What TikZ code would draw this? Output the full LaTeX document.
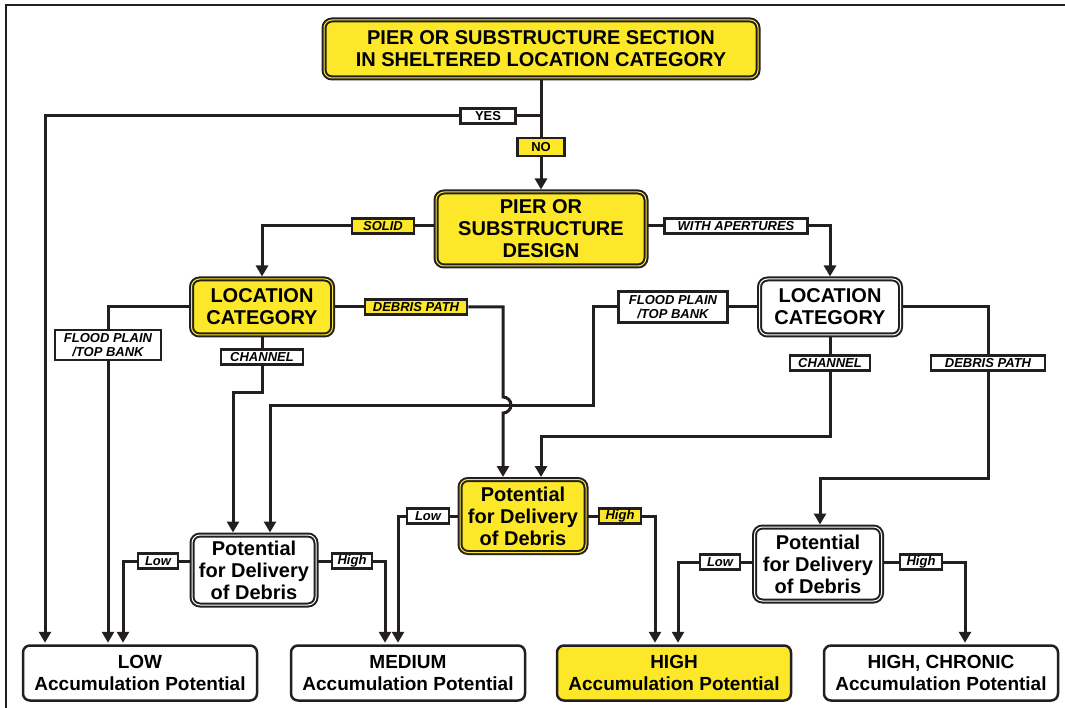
\documentclass[tikz,border=0pt]{standalone}
\usepackage{fontspec}
\setmainfont{Liberation Sans}
\usetikzlibrary{arrows.meta}
\definecolor{ink}{HTML}{231F20}
\definecolor{hilite}{RGB}{252,232,40}

\begin{document}
\begin{tikzpicture}[x=1pt, y=-1pt,
    box/.style={rectangle, rounded corners=8pt, draw=ink, line width=2pt, double distance=1pt, align=center, inner sep=0pt, font=\bfseries\fontsize{20}{22}\selectfont},
    ybox/.style={box, fill=hilite, double=hilite},
    wbox/.style={box, fill=white, double=white},
    result/.style={rectangle, rounded corners=7pt, draw=ink, line width=2.5pt, fill=white, align=center, minimum width=234pt, minimum height=55pt, inner sep=0pt, font=\bfseries\fontsize{19}{22}\selectfont},
    tag/.style={rectangle, draw=ink, line width=2.5pt, fill=white, align=center, inner sep=0pt, minimum height=15pt, font=\bfseries\itshape\fontsize{13}{14}\selectfont},
    ytag/.style={tag, fill=hilite},
    plain/.style={font=\bfseries\fontsize{13}{14}\selectfont},
    link/.style={draw=ink, line width=3pt},
    arr/.style={link, shorten >=1.5pt, -{Triangle[length=11pt, width=12pt]}}]
    \useasboundingbox (0,0) rectangle (1065,708);
    \draw[ink, line width=2.5pt] (1065,5) -- (6,5) -- (6,708);

    % decision boxes
    \node (top) [ybox, minimum width=434pt, minimum height=58pt] at (541,49) {PIER OR SUBSTRUCTURE SECTION\\IN SHELTERED LOCATION CATEGORY};
    \node (design) [ybox, minimum width=210pt, minimum height=74pt] at (541,229) {PIER OR\\SUBSTRUCTURE\\DESIGN};
    \node (loc1) [ybox, minimum width=141pt, minimum height=56pt] at (262,307) {LOCATION\\CATEGORY};
    \node (loc2) [wbox, minimum width=141pt, minimum height=56pt] at (830,307) {LOCATION\\CATEGORY};
    \node (pd1) [wbox, minimum width=124pt, minimum height=70pt] at (254,570) {Potential\\for Delivery\\of Debris};
    \node (pd2) [ybox, minimum width=126pt, minimum height=73pt] at (523,516) {Potential\\for Delivery\\of Debris};
    \node (pd3) [wbox, minimum width=127pt, minimum height=74pt] at (818,564) {Potential\\for Delivery\\of Debris};

    % outcomes
    \node (low) [result] at (140,673) {LOW\\Accumulation Potential};
    \node (medium) [result] at (408,673) {MEDIUM\\Accumulation Potential};
    \node (high) [result, fill=hilite] at (674,673) {HIGH\\Accumulation Potential};
    \node (chronic) [result] at (941,673) {HIGH, CHRONIC\\Accumulation Potential};

    % branch tags
    \node (yes) [tag, plain, minimum width=55pt] at (488,116) {YES};
    \node (no) [ytag, plain, minimum width=47pt, minimum height=18pt] at (541,147) {NO};
    \node (solid) [ytag, minimum width=62pt] at (383,226) {SOLID};
    \node (aper) [tag, minimum width=143pt] at (736,226) {WITH APERTURES};
    \node (fp1) [tag, minimum width=106pt, minimum height=30pt] at (108,345) {FLOOD PLAIN\\/TOP BANK};
    \node (ch1) [tag, minimum width=82pt] at (262,357) {CHANNEL};
    \node (dp1) [ytag, minimum width=102pt] at (416,307) {DEBRIS PATH};
    \node (fp2) [tag, minimum width=109pt, minimum height=31pt] at (673,307) {FLOOD PLAIN\\/TOP BANK};
    \node (ch2) [tag, minimum width=80pt] at (830,363) {CHANNEL};
    \node (dp2) [tag, minimum width=114pt] at (988,363) {DEBRIS PATH};
    \node (low1) [tag, minimum width=40pt] at (158,561) {Low};
    \node (high1) [tag, minimum width=40pt] at (352,561) {High};
    \node (low2) [tag, minimum width=42pt] at (428,516) {Low};
    \node (high2) [ytag, minimum width=42pt] at (620,516) {High};
    \node (low3) [tag, minimum width=40pt] at (720,562) {Low};
    \node (high3) [tag, minimum width=42pt] at (921,562) {High};

    % bends and drops
    \coordinate (yesbend) at (45,116);
    \coordinate (chbend1) at (233,392);
    \coordinate (hop) at (503,405);
    \coordinate (fpbend) at (593,405);
    \coordinate (fpdrop) at (270,405);
    \coordinate (chbend2) at (541,436);
    \coordinate (dpbend) at (820,478);
    \coordinate (lowdrop1) at (123,561);
    \coordinate (highdrop1) at (385,561);
    \coordinate (lowdrop2) at (398,516);
    \coordinate (highdrop2) at (655,516);
    \coordinate (lowdrop3) at (678,562);
    \coordinate (highdrop3) at (965,562);

    % sheltered or not
    \draw[link] (top) -- (no);
    \draw[arr] (no) -- (design);
    \draw[link] (top.south |- yes) -- (yes);
    \draw[arr] (yes) -- (yesbend) -- (yesbend |- low.north);

    % design
    \draw[link] (solid) -- (solid -| design.west);
    \draw[arr] (solid) -| (loc1);
    \draw[link] (aper) -- (aper -| design.east);
    \draw[arr] (aper) -| (loc2);

    % solid section
    \draw[link] (fp1) |- (loc1.west);
    \draw[arr] (fp1) -- (fp1 |- low.north);
    \draw[link] (loc1) -- (ch1);
    \draw[arr] (ch1) |- (chbend1) -- (chbend1 |- pd1.north);
    \draw[link] (loc1) -- (dp1);
    \draw[arr] (dp1) -| ([yshift=8pt]hop) arc[start angle=90, end angle=-90, radius=8pt] -- (hop |- pd2.north);

    % section with apertures
    \draw[link] (fp2) -- (loc2);
    \draw[arr] (fp2) -| (fpbend) -- (fpdrop) -- (fpdrop |- pd1.north);
    \draw[link] (loc2) -- (ch2);
    \draw[arr] (ch2) |- (chbend2) -- (chbend2 |- pd2.north);
    \draw[link] (loc2.east) -| (dp2);
    \draw[arr] (dp2) |- (dpbend) -- (dpbend |- pd3.north);

    % delivery of debris
    \draw[link] (low1) -- (low1 -| pd1.west);
    \draw[arr] (low1) -- (lowdrop1) -- (lowdrop1 |- low.north);
    \draw[link] (high1) -- (high1 -| pd1.east);
    \draw[arr] (high1) -- (highdrop1) -- (highdrop1 |- medium.north);
    \draw[link] (low2) -- (low2 -| pd2.west);
    \draw[arr] (low2) -- (lowdrop2) -- (lowdrop2 |- medium.north);
    \draw[link] (high2) -- (high2 -| pd2.east);
    \draw[arr] (high2) -- (highdrop2) -- (highdrop2 |- high.north);
    \draw[link] (low3) -- (low3 -| pd3.west);
    \draw[arr] (low3) -- (lowdrop3) -- (lowdrop3 |- high.north);
    \draw[link] (high3) -- (high3 -| pd3.east);
    \draw[arr] (high3) -- (highdrop3) -- (highdrop3 |- chronic.north);
\end{tikzpicture}
\end{document}
